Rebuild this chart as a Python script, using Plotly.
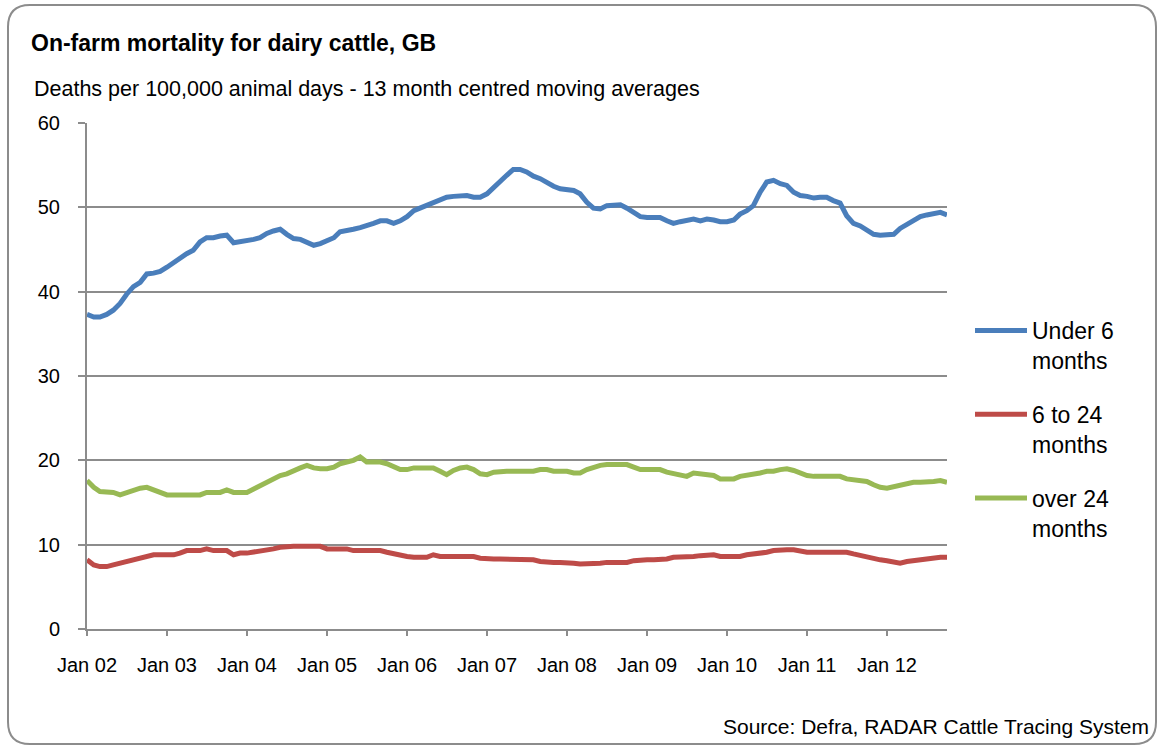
import plotly.graph_objects as go
import pandas as pd

# Monthly 13-month centred moving averages, Jan 2002 - Oct 2012
start_month = "2002-01-01"
n_months = 130

under_6_months = [
    37.3, 37.0, 37.0, 37.3, 37.8, 38.6, 39.7, 40.6, 41.1, 42.1, 42.2, 42.4,
    42.9, 43.5, 44.0, 44.5, 44.9, 45.9, 46.4, 46.4, 46.6, 46.7, 45.8, 45.9,
    46.0, 46.2, 46.4, 46.9, 47.2, 47.4, 46.8, 46.3, 46.2, 45.8, 45.5, 45.7,
    46.0, 46.4, 47.1, 47.2, 47.4, 47.6, 47.8, 48.1, 48.4, 48.4, 48.1, 48.4,
    48.9, 49.6, 49.9, 50.2, 50.5, 50.8, 51.2, 51.3, 51.4, 51.4, 51.2, 51.2,
    51.6, 52.4, 53.2, 53.8, 54.5, 54.5, 54.2, 53.7, 53.4, 52.9, 52.5, 52.2,
    52.1, 52.0, 51.6, 50.6, 49.9, 49.8, 50.2, 50.3, 50.3, 49.9, 49.4, 48.9,
    48.8, 48.8, 48.8, 48.4, 48.1, 48.3, 48.5, 48.6, 48.4, 48.6, 48.5, 48.3,
    48.3, 48.5, 49.2, 49.6, 50.2, 51.8, 53.0, 53.2, 52.8, 52.6, 51.8, 51.4,
    51.3, 51.1, 51.2, 51.2, 50.8, 50.5, 49.0, 48.1, 47.8, 47.3, 46.8, 46.7,
    46.7, 46.8, 47.5, 48.0, 48.5, 48.9, 49.1, 49.3, 49.4, 49.1,
]

six_to_24_months = [
    8.2, 7.6, 7.4, 7.4, 7.6, 7.8, 8.0, 8.3, 8.4, 8.7, 8.8, 8.8,
    8.8, 8.8, 9.0, 9.3, 9.3, 9.3, 9.5, 9.3, 9.3, 9.3, 8.8, 9.0,
    9.0, 9.1, 9.3, 9.3, 9.5, 9.7, 9.8, 9.8, 9.8, 9.8, 9.8, 9.8,
    9.5, 9.5, 9.5, 9.5, 9.3, 9.3, 9.3, 9.3, 9.3, 9.1, 8.9, 8.8,
    8.6, 8.5, 8.5, 8.5, 8.8, 8.6, 8.6, 8.6, 8.6, 8.6, 8.6, 8.4,
    8.3, 8.3, 8.3, 8.3, 8.3, 8.3, 8.3, 8.2, 8.0, 7.9, 7.9, 7.9,
    7.9, 7.8, 7.7, 7.7, 7.7, 7.8, 7.9, 7.9, 7.9, 7.9, 8.1, 8.2,
    8.2, 8.2, 8.2, 8.3, 8.5, 8.5, 8.5, 8.6, 8.7, 8.7, 8.8, 8.6,
    8.6, 8.6, 8.6, 8.8, 8.9, 8.9, 9.1, 9.3, 9.4, 9.4, 9.4, 9.2,
    9.1, 9.1, 9.1, 9.1, 9.1, 9.1, 9.1, 8.9, 8.7, 8.6, 8.4, 8.2,
    8.1, 8.0, 7.8, 8.0, 8.1, 8.2, 8.4, 8.5, 8.5, 8.5,
]

over_24_months = [
    17.6, 16.8, 16.3, 16.2, 16.2, 15.9, 16.2, 16.5, 16.7, 16.8, 16.5, 16.1,
    15.9, 15.9, 15.9, 15.9, 15.9, 15.9, 16.2, 16.2, 16.2, 16.5, 16.2, 16.2,
    16.2, 16.6, 17.0, 17.3, 17.8, 18.2, 18.4, 18.8, 19.1, 19.4, 19.1, 19.0,
    19.0, 19.2, 19.6, 19.8, 20.0, 20.4, 19.8, 19.8, 19.8, 19.6, 19.3, 18.9,
    18.9, 19.1, 19.1, 19.1, 19.1, 18.7, 18.3, 18.8, 19.1, 19.2, 18.9, 18.4,
    18.3, 18.6, 18.7, 18.7, 18.7, 18.7, 18.7, 18.7, 18.9, 18.9, 18.7, 18.7,
    18.7, 18.5, 18.5, 18.9, 19.2, 19.4, 19.5, 19.5, 19.5, 19.5, 19.2, 18.9,
    18.9, 18.9, 18.9, 18.6, 18.4, 18.3, 18.1, 18.5, 18.4, 18.4, 18.2, 17.8,
    17.8, 17.8, 18.1, 18.2, 18.4, 18.5, 18.7, 18.7, 18.9, 19.0, 18.8, 18.5,
    18.2, 18.1, 18.1, 18.1, 18.1, 18.1, 17.8, 17.7, 17.7, 17.5, 17.1, 16.8,
    16.7, 16.9, 17.0, 17.2, 17.4, 17.4, 17.4, 17.5, 17.6, 17.4,
]

series_names = ["Under 6<br>months", "6 to 24<br>months", "over 24<br>months"]
series_colors = ["#4A7EBB", "#BE4B48", "#98B954"]

tick_dates = ["2002-01-01", "2003-01-01", "2004-01-01", "2005-01-01", "2006-01-01",
              "2007-01-01", "2008-01-01", "2009-01-01", "2010-01-01", "2011-01-01",
              "2012-01-01"]
tick_labels = ["Jan 02", "Jan 03", "Jan 04", "Jan 05", "Jan 06", "Jan 07",
               "Jan 08", "Jan 09", "Jan 10", "Jan 11", "Jan 12"]

y_ticks = [0, 10, 20, 30, 40, 50, 60]

dates = pd.date_range(start_month, periods=n_months, freq="MS")

W, H = 1158, 747
ML, MR, MT, MB = 87, 211, 123, 118
PW = W - ML - MR
PH = H - MT - MB

def px(x):
    return (x - ML) / PW

def py(y):
    return (H - MB - y) / PH

FONT = "Liberation Sans, Arial, sans-serif"
GRID = "#8C8C8C"

fig = go.Figure()
for i, (name, vals, col) in enumerate(zip(series_names,
                                          [under_6_months, six_to_24_months, over_24_months],
                                          series_colors)):
    fig.add_trace(go.Scatter(
        x=dates, y=vals, name=name, mode="lines",
        line=dict(color=col, width=5),
        legendgroup=f"g{i}",
    ))

# rounded border
L, T, R, B, r = 8, 5, 1156, 744, 22
path = (f"M {px(L+r)},{py(T)} L {px(R-r)},{py(T)} Q {px(R)},{py(T)} {px(R)},{py(T+r)} "
        f"L {px(R)},{py(B-r)} Q {px(R)},{py(B)} {px(R-r)},{py(B)} "
        f"L {px(L+r)},{py(B)} Q {px(L)},{py(B)} {px(L)},{py(B-r)} "
        f"L {px(L)},{py(T+r)} Q {px(L)},{py(T)} {px(L+r)},{py(T)} Z")

fig.update_layout(
    width=W, height=H,
    margin=dict(l=ML, r=MR, t=MT, b=MB),
    paper_bgcolor="white", plot_bgcolor="white",
    font=dict(family=FONT, color="#000000", size=20),
    shapes=[dict(type="path", path=path, xref="paper", yref="paper",
                 line=dict(color="#8C8C8C", width=2), layer="below")],
    showlegend=True,
    legend=dict(x=px(970), y=py(309), xanchor="left", yanchor="top",
                font=dict(size=23, family=FONT), valign="top",
                tracegroupgap=21, itemwidth=52, bgcolor="rgba(0,0,0,0)"),
    annotations=[
        dict(text="<b>On-farm mortality for dairy cattle, GB</b>", x=px(29), y=py(43),
             xref="paper", yref="paper", xanchor="left", yanchor="middle",
             showarrow=False, font=dict(size=23, family=FONT)),
        dict(text="Deaths per 100,000 animal days - 13 month centred moving averages",
             x=px(32), y=py(89), xref="paper", yref="paper", xanchor="left",
             yanchor="middle", showarrow=False, font=dict(size=21.5, family=FONT)),
        dict(text="Source: Defra, RADAR Cattle Tracing System", x=px(1151), y=py(726),
             xref="paper", yref="paper", xanchor="right", yanchor="middle",
             showarrow=False, font=dict(size=21, family=FONT)),
    ],
)

fig.update_xaxes(
    type="date", range=[dates[0], dates[-1]],
    tickvals=tick_dates, ticktext=tick_labels,
    showgrid=False, zeroline=False,
    showline=True, linecolor=GRID, linewidth=2,
    ticks="outside", ticklen=5, tickcolor=GRID, tickwidth=2,
    ticklabelstandoff=12,
    tickfont=dict(size=20, family=FONT),
)
fig.update_yaxes(
    range=[0, 60], tickvals=y_ticks,
    showgrid=True, gridcolor=GRID, gridwidth=2, zeroline=False,
    showline=True, linecolor=GRID, linewidth=2,
    ticks="outside", ticklen=7, tickcolor=GRID, tickwidth=2,
    ticklabelstandoff=14,
    tickfont=dict(size=20, family=FONT),
)

fig.write_html("out.html", config={"displayModeBar": False},
               post_script="document.body.style.margin='0';")
